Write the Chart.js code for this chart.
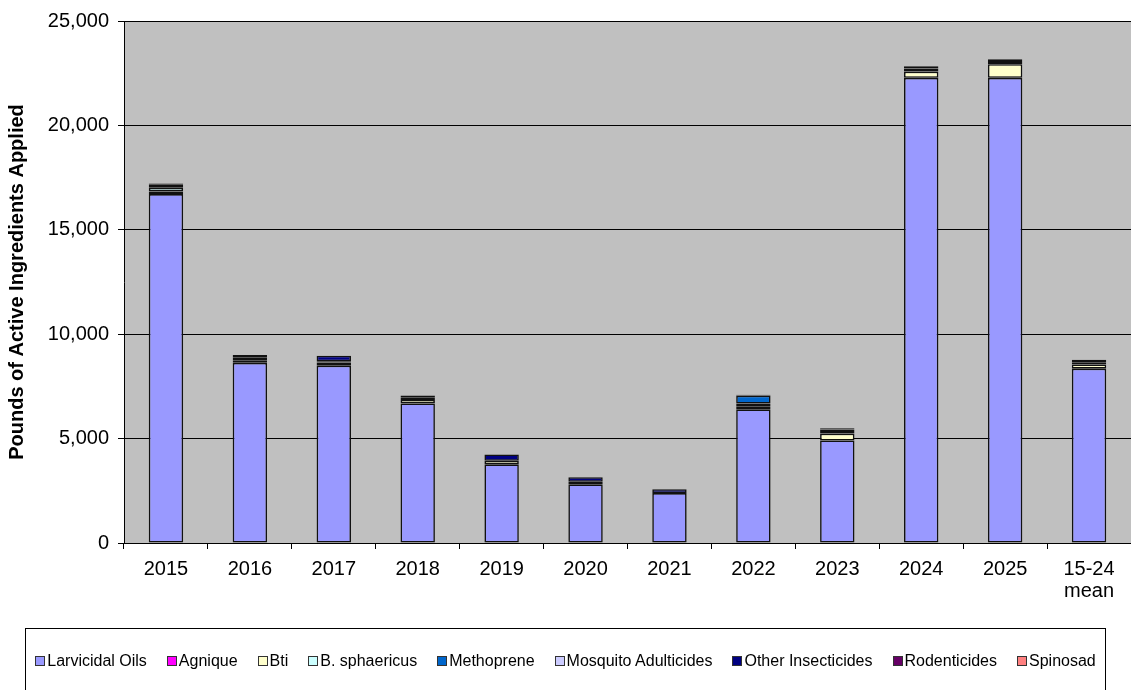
<!DOCTYPE html>
<html>
<head>
<meta charset="utf-8">
<script src="https://cdn.jsdelivr.net/npm/chart.js@4/dist/chart.umd.min.js"></script>
<style>
  html, body { margin: 0; padding: 0; background: #fff; overflow: hidden; }
  #wrap { position: relative; width: 1131px; height: 690px; }
  #legendBox {
    position: absolute; left: 25px; top: 628px; width: 1081px; height: 90px;
    border: 1px solid #000; box-sizing: border-box;
    display: flex; justify-content: center; align-items: flex-start;
    padding-top: 23px; gap: 20px;
    font-family: "Liberation Sans", Arial, sans-serif; font-size: 16px; color: #000;
  }
  .lg-item { display: flex; align-items: center; white-space: nowrap; }
  .lg-swatch { width: 8px; height: 8px; border: 1px solid #333; margin-right: 2px; }
</style>
</head>
<body>
<div id="wrap">
  <canvas id="pesticideChart" width="1131" height="690"></canvas>
  <div id="legendBox"></div>
</div>
<script>
// ===== Pesticide use by year (lbs active ingredient) =====

const years = ['2015', '2016', '2017', '2018', '2019', '2020', '2021', '2022', '2023', '2024', '2025', ['15-24', 'mean']];

const larvicidalOils      = [16710, 8630, 8490, 6680, 3770, 2810, 2390, 6400, 4910, 22280, 22280, 8350];
const agnique             = [null, null, null, null, null, null, null, null, null, null, null, null];
const bti                 = [120, 120, 150, 170, 170, 120, null, 130, 330, 300, 650, 200];
const bSphaericus         = [180, 150, null, 130, null, null, null, 150, 80, 150, 150, 80];
const methoprene          = [150, null, 60, null, null, null, null, 380, 120, null, null, null];
const mosquitoAdulticides = [null, null, null, null, null, null, null, null, null, null, null, null];
const otherInsecticides   = [60, 100, 270, 80, 300, 220, 190, 40, 60, 100, 90, 150];
const rodenticides        = [null, null, null, null, null, null, null, null, null, null, null, null];
const spinosad            = [null, null, null, null, null, null, null, null, null, null, null, null];

const yTicks = [0, 5000, 10000, 15000, 20000, 25000];

const seriesList = [
  { label: 'Larvicidal Oils', data: larvicidalOils, color: '#9999ff' },
  { label: 'Agnique', data: agnique, color: '#ff00ff' },
  { label: 'Bti', data: bti, color: '#ffffcc' },
  { label: 'B. sphaericus', data: bSphaericus, color: '#ccffff' },
  { label: 'Methoprene', data: methoprene, color: '#0066cc' },
  { label: 'Mosquito Adulticides', data: mosquitoAdulticides, color: '#ccccff' },
  { label: 'Other Insecticides', data: otherInsecticides, color: '#000080' },
  { label: 'Rodenticides', data: rodenticides, color: '#660066' },
  { label: 'Spinosad', data: spinosad, color: '#ff8080' }
];

const FONT = '"Liberation Sans", Arial, sans-serif';

// gray plot background behind the bars
const plotBackground = {
  id: 'plotBackground',
  beforeDraw(chart) {
    const { ctx, chartArea: a } = chart;
    ctx.save();
    ctx.fillStyle = '#c0c0c0';
    ctx.fillRect(a.left, a.top, a.right - a.left, a.bottom - a.top);
    ctx.restore();
  }
};

function renderLegend() {
  const box = document.getElementById('legendBox');
  box.innerHTML = '';
  seriesList.forEach(s => {
    box.innerHTML += '<div class="lg-item"><span class="lg-swatch" style="background:' + s.color + '"></span>' + s.label + '</div>';
  });
}

function renderChart() {
  new Chart(document.getElementById('pesticideChart'), {
    type: 'bar',
    data: {
      labels: years,
      datasets: seriesList.map(s => ({
        label: s.label,
        data: s.data,
        backgroundColor: s.color,
        borderColor: '#111',
        borderWidth: 1.6,
        borderSkipped: false,
        barPercentage: 0.5,
        categoryPercentage: 0.82
      }))
    },
    options: {
      responsive: false,
      animation: false,
      layout: { padding: { top: 19, right: 0, bottom: 0, left: 0 } },
      plugins: { legend: { display: false }, tooltip: { enabled: false } },
      scales: {
        x: {
          stacked: true,
          grid: { display: true, drawOnChartArea: false, offset: true, color: '#000', tickLength: 6 },
          border: { color: '#000', width: 1 },
          ticks: { color: '#000', font: { family: FONT, size: 20, lineHeight: 1.1 }, padding: 9, maxRotation: 0 },
          afterFit(scale) { scale.height = 147; }
        },
        y: {
          stacked: true,
          min: 0,
          max: 25000,
          afterBuildTicks(scale) { scale.ticks = yTicks.map(v => ({ value: v })); },
          grid: { color: '#000', tickLength: 6 },
          border: { color: '#000', width: 1 },
          ticks: {
            color: '#000',
            font: { family: FONT, size: 20 },
            padding: 9,
            callback: v => v.toLocaleString('en-US')
          },
          title: {
            display: true,
            text: 'Pounds of Active Ingredients Applied',
            color: '#000',
            font: { family: FONT, size: 20, weight: 'bold' },
            padding: { top: 5, bottom: 0 }
          },
          afterFit(scale) { scale.width = 124; }
        }
      }
    },
    plugins: [plotBackground]
  });
}

renderLegend();
renderChart();
</script>
</body>
</html>
